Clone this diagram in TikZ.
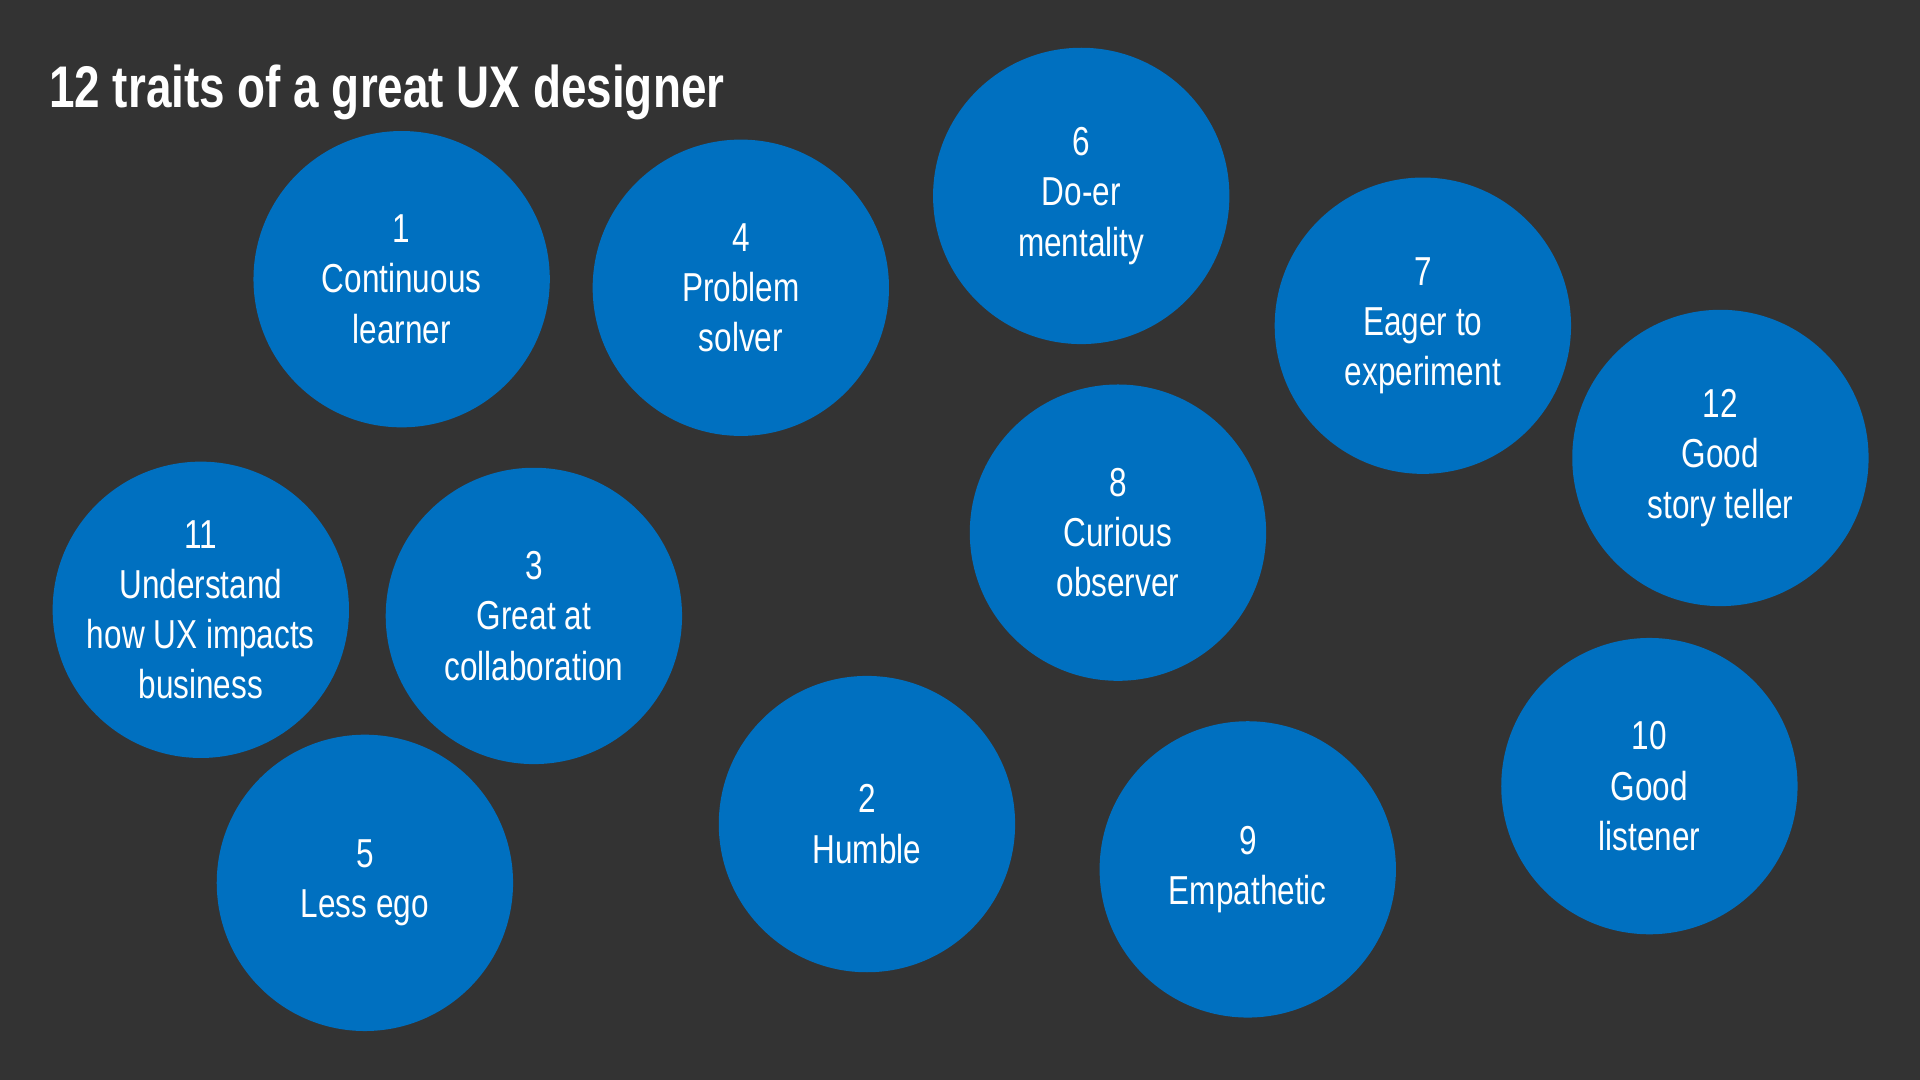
\documentclass[tikz,border=0pt]{standalone}
\usepackage{fontspec}
\setmainfont{Liberation Sans}[FakeStretch=0.78]
\definecolor{bg}{HTML}{333333}
\definecolor{cblue}{HTML}{0070C0}
\begin{document}
\begin{tikzpicture}[x=1pt,y=-1pt,
  trait/.style={circle,fill=cblue,minimum size=242pt,inner sep=0pt,text=white,align=center,font=\fontsize{33}{41}\selectfont}]
\fill[bg] (0,0) rectangle (1568,882);
\useasboundingbox (0,0) rectangle (1568,882);
\node[anchor=base west,text=white,font=\bfseries\fontsize{48}{56}\selectfont,inner sep=0pt] (title) at (40,88) {12 traits of a great UX designer};
\node[trait] (t1) at (328,228) {1\\Continuous\\learner};
\node[trait] (t4) at (605,235) {4\\Problem\\solver};
\node[trait] (t6) at (883,160) {6\\Do-er\\mentality};
\node[trait] (t7) at (1162,266) {7\\Eager to\\experiment};
\node[trait] (t12) at (1405,374) {12\\Good\\story teller};
\node[trait] (t8) at (913,435) {8\\Curious\\observer};
\node[trait] (t11) at (164,498) {11\\Understand\\how UX impacts\\business};
\node[trait] (t3) at (436,503) {3\\Great at\\collaboration};
\node[trait] (t5) at (298,721) {5\\Less ego};
\node[trait] (t2) at (708,673) {2\\Humble};
\node[trait] (t9) at (1019,710) {9\\Empathetic};
\node[trait] (t10) at (1347,642) {10\\Good\\listener};
\end{tikzpicture}
\end{document}
